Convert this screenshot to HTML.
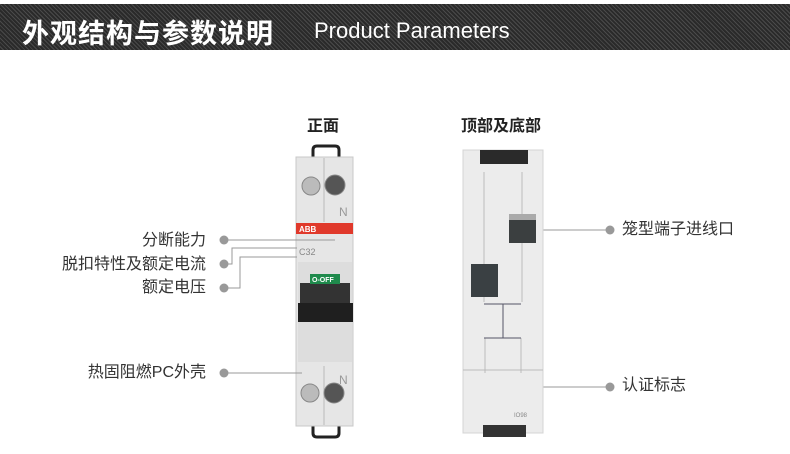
<!DOCTYPE html>
<html><head><meta charset="utf-8"><style>
body{margin:0;width:790px;height:454px;background:#fff;overflow:hidden;position:relative;font-family:"Liberation Sans","Noto Sans CJK SC",sans-serif}
.hd{position:absolute;left:0;top:4px;width:790px;height:46px;background:repeating-linear-gradient(45deg,#2a2a2a 0 2px,#4a4a4a 2px 3px)}
.t1{position:absolute;left:22px;top:8px;color:#fff;font-size:27px;font-weight:bold;letter-spacing:1px}
.t2{position:absolute;left:314px;top:14px;color:#fff;font-size:22px;font-family:"Liberation Sans",sans-serif}
.l{position:absolute;font-size:16px;color:#333;line-height:20px;white-space:nowrap}
.r{text-align:right;right:584px}
.h{position:absolute;font-size:16px;font-weight:bold;color:#222;top:112px}
</style></head><body>
<div class="hd"><div class="t1">外观结构与参数说明</div><div class="t2">Product Parameters</div></div>
<div class="h" style="left:307px">正面</div>
<div class="h" style="left:461px">顶部及底部</div>
<div class="l r" style="top:231px">分断能力</div>
<div class="l r" style="top:255px">脱扣特性及额定电流</div>
<div class="l r" style="top:278px">额定电压</div>
<div class="l r" style="top:363px">热固阻燃PC外壳</div>
<div class="l" style="left:622px;top:220px">笼型端子进线口</div>
<div class="l" style="left:622px;top:376px">认证标志</div>
<svg width="790" height="454" style="position:absolute;left:0;top:0">
<!-- front breaker -->
<path d="M313 158 v-8 q0-4 4-4 h18 q4 0 4 4 v8" fill="none" stroke="#222" stroke-width="3"/>
<path d="M313 425 v8 q0 4 4 4 h18 q4 0 4-4 v-8" fill="none" stroke="#222" stroke-width="3"/>
<rect x="296" y="157" width="57" height="269" fill="#e6e6e6" stroke="#c8c8c8"/>
<line x1="324" y1="158" x2="324" y2="222" stroke="#bbb"/>
<line x1="324" y1="366" x2="324" y2="425" stroke="#bbb"/>
<circle cx="311" cy="186" r="9" fill="#bbb" stroke="#888"/>
<circle cx="335" cy="185" r="10" fill="#555" stroke="#888"/>
<circle cx="310" cy="393" r="9" fill="#bbb" stroke="#888"/>
<circle cx="334" cy="393" r="10" fill="#555" stroke="#888"/>
<text x="339" y="216" font-size="12" fill="#999" font-family="Liberation Sans">N</text>
<text x="339" y="384" font-size="12" fill="#999" font-family="Liberation Sans">N</text>
<rect x="296" y="223" width="57" height="11" fill="#e0392b"/>
<text x="299" y="232" font-size="8" font-weight="bold" fill="#fff" font-family="Liberation Sans">ABB</text>
<text x="299" y="255" font-size="9" fill="#888" font-family="Liberation Sans">C32</text>
<rect x="298" y="262" width="54" height="100" fill="#ddd"/>
<rect x="300" y="283" width="50" height="22" fill="#333"/>
<rect x="310" y="274" width="30" height="10" fill="#1f8a4c"/>
<text x="312" y="282" font-size="7" font-weight="bold" fill="#fff" font-family="Liberation Sans">O-OFF</text>
<rect x="298" y="303" width="55" height="19" fill="#1f1f1f"/>
<!-- connector lines left -->
<g stroke="#999" fill="none">
<line x1="224" y1="240" x2="335" y2="240"/>
<polyline points="224,264 232,264 232,248 297,248"/>
<polyline points="224,288 240,288 240,257 297,257"/>
<line x1="224" y1="373" x2="302" y2="373"/>
<line x1="511" y1="230" x2="610" y2="230"/>
<line x1="537" y1="387" x2="610" y2="387"/>
</g>
<g fill="#999"><circle cx="224" cy="240" r="4.5"/><circle cx="224" cy="264" r="4.5"/><circle cx="224" cy="288" r="4.5"/><circle cx="224" cy="373" r="4.5"/><circle cx="610" cy="230" r="4.5"/><circle cx="610" cy="387" r="4.5"/></g>
<!-- top view -->
<rect x="463" y="150" width="80" height="283" fill="#ececec" stroke="#d4d4d4"/>
<rect x="480" y="150" width="48" height="14" fill="#2a2a2a"/>
<rect x="483" y="425" width="43" height="12" fill="#333"/>
<g stroke="#bbb" fill="none"><line x1="484" y1="172" x2="484" y2="302"/><line x1="522" y1="172" x2="522" y2="302"/><line x1="485" y1="338" x2="485" y2="373"/><line x1="521" y1="338" x2="521" y2="373"/><line x1="463" y1="370" x2="543" y2="370"/></g>
<g stroke="#556" fill="none"><polyline points="484,304 521,304"/><line x1="503" y1="304" x2="503" y2="338"/><polyline points="484,338 521,338"/></g>
<rect x="509" y="214" width="27" height="29" fill="#3b3f40"/>
<rect x="509" y="214" width="27" height="6" fill="#aaa"/>
<rect x="471" y="264" width="27" height="33" fill="#3a4043"/>
<text x="514" y="417" font-size="6" fill="#888" font-family="Liberation Sans">IO98</text>
</svg>
</body></html>
